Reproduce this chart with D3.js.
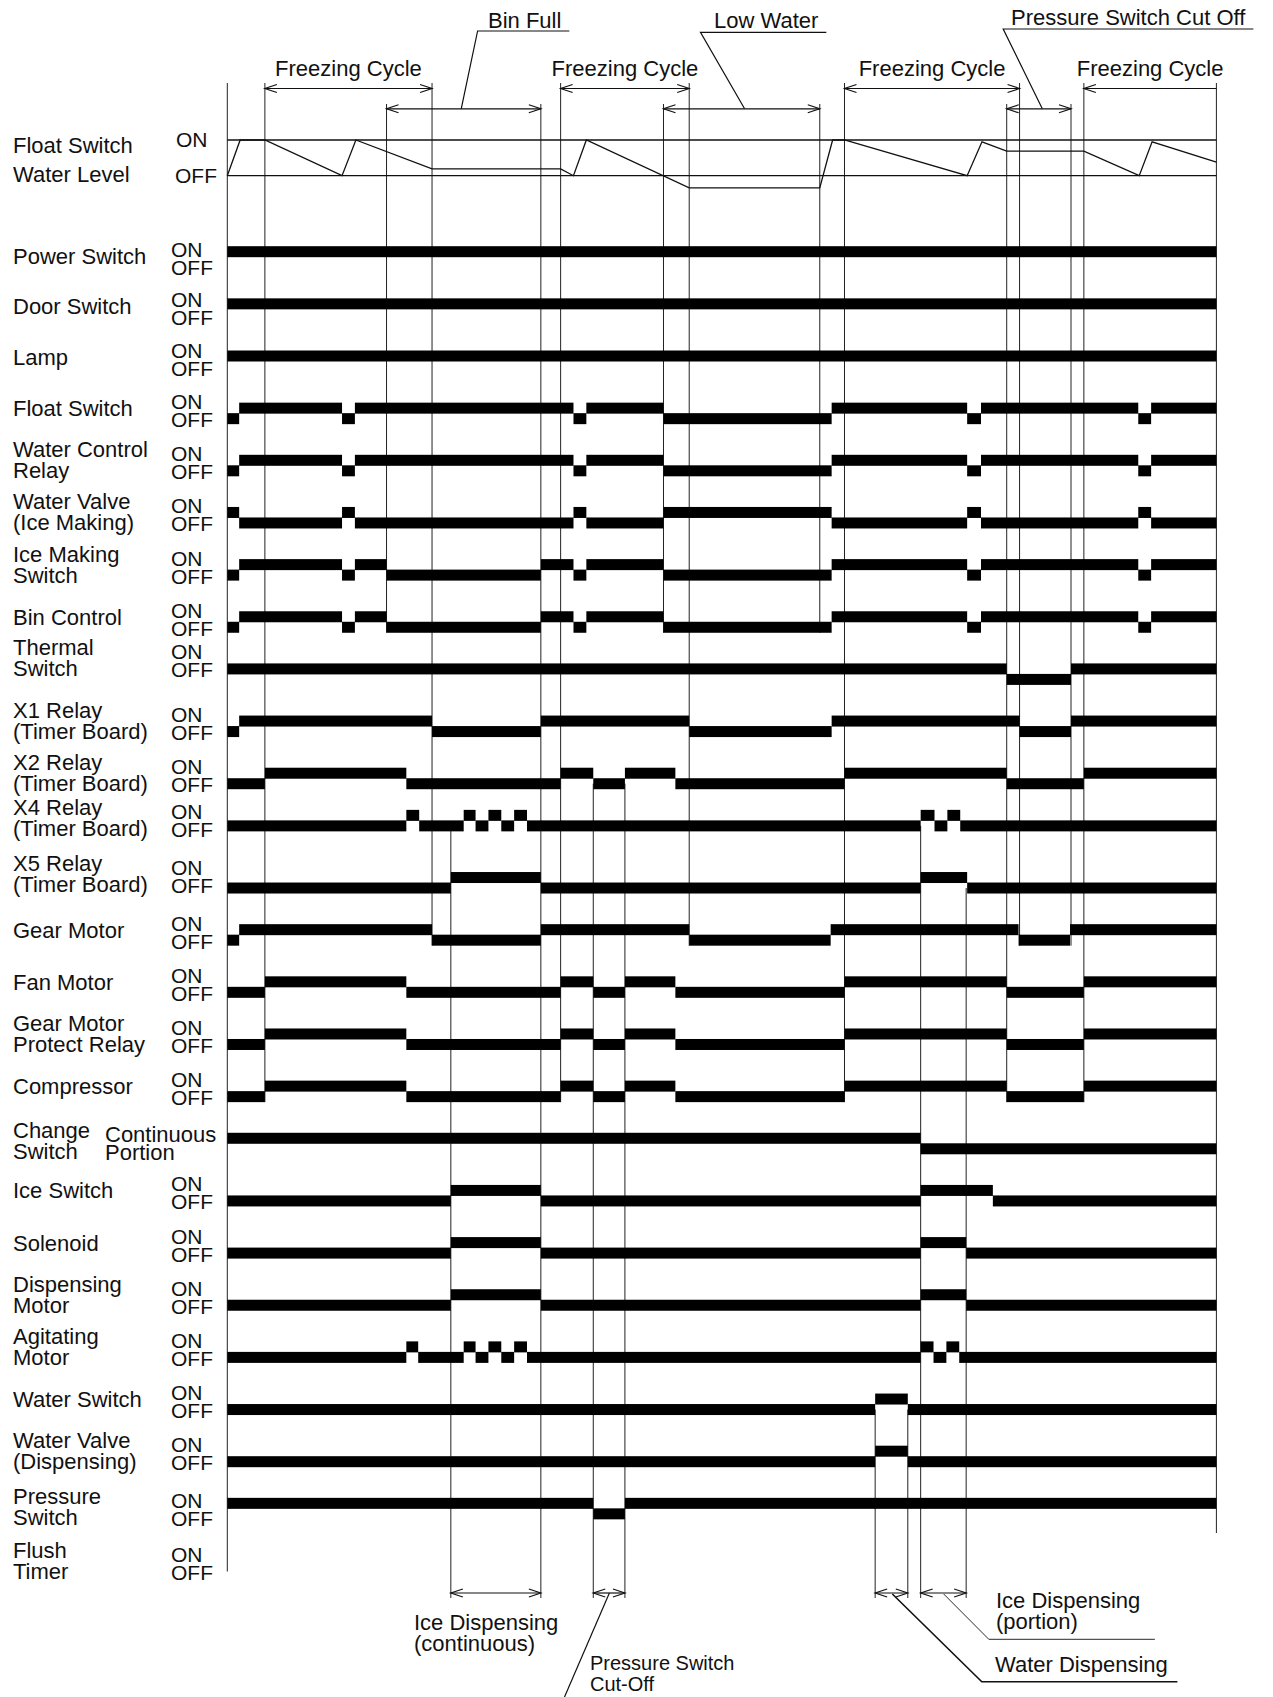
<!DOCTYPE html>
<html>
<head>
<meta charset="utf-8">
<script src="https://cdn.jsdelivr.net/npm/d3@7"></script>
<style>
  body { margin: 0; background: #fff; }
  text { font-family: "Liberation Sans", Arial, Helvetica, sans-serif; fill: #111; }
</style>
</head>
<body>
<script>
// rows of the timing chart, top to bottom
var rowNames = ["Power Switch", "Door Switch", "Lamp", "Float Switch", "Water Control Relay",
  "Water Valve (Ice Making)", "Ice Making Switch", "Bin Control", "Thermal Switch", "X1 Relay",
  "X2 Relay", "X4 Relay", "X5 Relay", "Gear Motor", "Fan Motor", "Gear Motor Protect Relay",
  "Compressor", "Change Switch", "Ice Switch", "Solenoid", "Dispensing Motor", "Agitating Motor",
  "Water Switch", "Water Valve (Dispensing)", "Pressure Switch", "Flush Timer"];

var rowLabels = [["Power Switch"], ["Door Switch"], ["Lamp"], ["Float Switch"], ["Water Control", "Relay"],
  ["Water Valve", "(Ice Making)"], ["Ice Making", "Switch"], ["Bin Control"], ["Thermal", "Switch"],
  ["X1 Relay", "(Timer Board)"], ["X2 Relay", "(Timer Board)"], ["X4 Relay", "(Timer Board)"],
  ["X5 Relay", "(Timer Board)"], ["Gear Motor"], ["Fan Motor"], ["Gear Motor", "Protect Relay"],
  ["Compressor"], ["Change", "Switch"], ["Ice Switch"], ["Solenoid"], ["Dispensing", "Motor"],
  ["Agitating", "Motor"], ["Water Switch"], ["Water Valve", "(Dispensing)"], ["Pressure", "Switch"],
  ["Flush", "Timer"]];

var stateLabels = ["ON", "OFF"];
var changeStates = ["Continuous", "Portion"];

// transitions: [time, state] with 1 = ON (upper level), 0 = OFF; time runs 0..100
var alwaysOn = [[0, 1]];
var floatSwitch = [[0, 0], [1.2, 1], [11.6, 0], [12.9, 1], [35.0, 0], [36.3, 1], [44.1, 0], [61.1, 1], [74.8, 0], [76.2, 1], [92.1, 0], [93.4, 1]];
var waterValveIce = [[0, 1], [1.2, 0], [11.6, 1], [12.9, 0], [35.0, 1], [36.3, 0], [44.1, 1], [61.1, 0], [74.8, 1], [76.2, 0], [92.1, 1], [93.4, 0]];
var iceMakingSwitch = [[0, 0], [1.2, 1], [11.6, 0], [12.9, 1], [16.1, 0], [31.7, 1], [35.0, 0], [36.3, 1], [44.1, 0], [61.1, 1], [74.8, 0], [76.2, 1], [92.1, 0], [93.4, 1]];
var thermalSwitch = [[0, 1], [78.8, 0], [85.3, 1]];
var x1Relay = [[0, 0], [1.2, 1], [20.7, 0], [31.7, 1], [46.7, 0], [61.1, 1], [80.1, 0], [85.3, 1]];
var x2Relay = [[0, 0], [3.8, 1], [18.1, 0], [33.7, 1], [37.0, 0], [40.2, 1], [45.3, 0], [62.4, 1], [78.8, 0], [86.6, 1]];
var x4Relay = [[0, 0], [18.1, 1], [19.4, 0], [23.9, 1], [25.1, 0], [26.4, 1], [27.7, 0], [29.0, 1], [30.3, 0], [70.1, 1], [71.5, 0], [72.8, 1], [74.1, 0]];
var x5Relay = [[0, 0], [22.6, 1], [31.7, 0], [70.1, 1], [74.8, 0]];
var gearMotor = [[0, 0], [1.2, 1], [20.7, 0], [31.7, 1], [46.7, 0], [61.0, 1], [80.0, 0], [85.2, 1]];
var changeSwitch = [[0, 1], [70.1, 0]];
var iceSwitch = [[0, 0], [22.6, 1], [31.7, 0], [70.1, 1], [77.4, 0]];
var solenoid = [[0, 0], [22.6, 1], [31.7, 0], [70.1, 1], [74.7, 0]];
var agitatingMotor = [[0, 0], [18.1, 1], [19.3, 0], [23.9, 1], [25.1, 0], [26.4, 1], [27.7, 0], [29.0, 1], [30.3, 0], [70.1, 1], [71.4, 0], [72.7, 1], [74.0, 0]];
var waterSwitch = [[0, 0], [65.5, 1], [68.8, 0]];
var pressureSwitch = [[0, 1], [37.0, 0], [40.2, 1]];
var flushTimer = [];

// water level in the float chamber: 1 = ON mark, 0 = OFF mark
var waterLevel = [[0, 0], [1.3, 1], [3.8, 1], [11.6, 0], [13.0, 1], [20.7, 0.19], [33.7, 0.19], [35.0, 0],
  [36.3, 1], [46.7, -0.34], [59.9, -0.34], [61.2, 1], [62.4, 1], [74.8, 0], [76.3, 0.95], [78.8, 0.69],
  [86.6, 0.69], [92.2, 0], [93.5, 0.95], [100, 0.38]];

// vertical guide lines: [time, from, to]
var guides = [[0, "cycle", "Flush Timer"], [3.8, "cycle", "Compressor"], [16.1, "span", "Bin Control"],
  [20.7, "cycle", "Gear Motor"], [22.6, "X4 Relay", "dims"], [31.7, "span", "dims"], [33.7, "cycle", "Compressor"],
  [37.0, "X2 Relay", "dims"], [40.2, "X2 Relay", "dims"], [44.1, "span", "Bin Control"], [46.7, "cycle", "Gear Motor"],
  [59.9, "span", "Bin Control"], [62.4, "cycle", "Compressor"], [65.5, "Water Switch", "dims"],
  [68.8, "Water Switch", "dims"], [70.1, "X4 Relay", "dims"], [74.7, "X5 Relay", "dims"],
  [78.8, "span", "Compressor"], [80.1, "cycle", "Gear Motor"], [85.3, "span", "Gear Motor"],
  [86.6, "cycle", "Compressor"], [100, "cycle", "end"]];

var freezingCycles = [[3.8, 20.7], [33.7, 46.7], [62.4, 80.1], [86.6, 100]];
var topEvents = ["Bin Full", "Low Water", "Pressure Switch Cut Off"];
var topEventSpans = [[16.1, 31.7], [44.1, 59.9], [78.8, 85.3]];
var bottomEvents = [["Ice Dispensing", "(continuous)"], ["Pressure Switch", "Cut-Off"], ["Water Dispensing"], ["Ice Dispensing", "(portion)"]];
var bottomEventSpans = [[22.6, 31.7], [37.0, 40.2], [65.5, 68.8], [70.1, 74.7]];

var signals = [alwaysOn, alwaysOn, alwaysOn, floatSwitch, floatSwitch, waterValveIce, iceMakingSwitch,
  iceMakingSwitch, thermalSwitch, x1Relay, x2Relay, x4Relay, x5Relay, gearMotor, x2Relay, x2Relay, x2Relay,
  changeSwitch, iceSwitch, solenoid, solenoid, agitatingMotor, waterSwitch, waterSwitch, pressureSwitch, flushTimer];

function main() {
  var svg = d3.select("body").append("svg").attr("width", 1273).attr("height", 1697);

  var x = d3.scaleLinear().domain([0, 100]).range([227.3, 1216.4]);
  var rowY = d3.scalePoint().domain(rowNames).range([251.7, 1555.5]);
  var wl = d3.scaleLinear().domain([0, 1]).range([175.7, 140]);

  var STEP = 10.5, BAR = 11;
  // small layout tweaks where the original drawing is not evenly spaced
  var barNudge = {"X4 Relay": -10};
  var labelNudge = {"Power Switch": 4, "Door Switch": 2, "Lamp": 1, "Thermal Switch": -10.5, "X4 Relay": -7,
    "X5 Relay": -4, "Change Switch": 3, "Pressure Switch": 4, "Flush Timer": 5};
  var fixedY = {cycle: 83, span: 104, dims: 1598, end: 1533};

  function yOn(name) { return rowY(name) + (barNudge[name] || 0); }
  function yLevel(name, s) { return yOn(name) + (s ? 0 : STEP); }

  // guide lines
  svg.append("g").attr("stroke", "#222").attr("stroke-width", 1)
    .selectAll("line").data(guides).join("line")
    .attr("x1", d => x(d[0])).attr("x2", d => x(d[0]))
    .attr("y1", d => fixedY[d[1]] !== undefined ? fixedY[d[1]] : yLevel(d[1], 0))
    .attr("y2", d => fixedY[d[2]] !== undefined ? fixedY[d[2]] : yLevel(d[2], 0) + BAR / 2);

  // water level section
  var top = svg.append("g").attr("stroke", "#111").attr("stroke-width", 1.3).attr("fill", "none");
  [1, 0].forEach(function(v) {
    top.append("line").attr("x1", x(0)).attr("x2", x(100)).attr("y1", wl(v)).attr("y2", wl(v));
  });
  top.append("path").datum(waterLevel)
    .attr("d", d3.line().x(d => x(d[0])).y(d => wl(d[1])));

  svg.append("text").attr("x", 13).attr("y", 153).attr("font-size", 22).text("Float Switch");
  svg.append("text").attr("x", 13).attr("y", 182).attr("font-size", 22).text("Water Level");
  svg.append("text").attr("x", 176).attr("y", 147).attr("font-size", 21).text("ON");
  svg.append("text").attr("x", 175).attr("y", 183).attr("font-size", 21).text("OFF");

  // signal bars
  var segs = [];
  rowNames.forEach(function(name, i) {
    var tr = signals[i];
    tr.forEach(function(d, j) {
      var t1 = j + 1 < tr.length ? tr[j + 1][0] : 100;
      segs.push({name: name, t0: d[0], t1: t1, s: d[1]});
    });
  });
  svg.append("g").selectAll("rect").data(segs).join("rect")
    .attr("x", d => x(d.t0)).attr("width", d => x(d.t1) - x(d.t0))
    .attr("y", d => yLevel(d.name, d.s) - BAR / 2).attr("height", BAR)
    .attr("fill", "#000");

  // row labels and state labels
  var labels = svg.append("g");
  rowNames.forEach(function(name, i) {
    var r = rowY(name) + (labelNudge[name] || 0);
    var lines = rowLabels[i];
    var ys = lines.length === 1 ? [r + 8] : [r - 3, r + 18];
    lines.forEach(function(s, k) {
      labels.append("text").attr("x", 13).attr("y", ys[k]).attr("font-size", 22).text(s);
    });
    var st = name === "Change Switch" ? changeStates : stateLabels;
    var sx = name === "Change Switch" ? 105 : 171;
    var sf = name === "Change Switch" ? 22 : 21;
    labels.append("text").attr("x", sx).attr("y", r + 1).attr("font-size", sf).text(st[0]);
    labels.append("text").attr("x", sx).attr("y", r + 19).attr("font-size", sf).text(st[1]);
  });

  // dimension arrows
  var ann = svg.append("g").attr("stroke", "#111").attr("stroke-width", 1.2).attr("fill", "none");
  function arrow(xa, xb, y, left, right) {
    ann.append("line").attr("x1", xa).attr("x2", xb).attr("y1", y).attr("y2", y);
    if (left) ann.append("path").attr("d", "M" + (xa + 12) + "," + (y - 4) + "L" + xa + "," + y + "L" + (xa + 12) + "," + (y + 4));
    if (right) ann.append("path").attr("d", "M" + (xb - 12) + "," + (y - 4) + "L" + xb + "," + y + "L" + (xb - 12) + "," + (y + 4));
  }

  freezingCycles.forEach(function(c) {
    arrow(x(c[0]), x(c[1]), 88.5, true, c[1] < 100);
    svg.append("text").attr("x", (x(c[0]) + x(c[1])) / 2).attr("y", 76)
      .attr("text-anchor", "middle").attr("font-size", 22).text("Freezing Cycle");
  });

  // top events with leader lines
  var topLayout = [{tx: 488, ty: 28, ex: 477.6, ly: 31, at: 23.65},
                   {tx: 714, ty: 28, ex: 700.5, ly: 32.3, at: 52.3},
                   {tx: 1011, ty: 25, ex: 1003.2, ly: 29, at: 82.4}];
  topEvents.forEach(function(label, i) {
    var sp = topEventSpans[i], L = topLayout[i];
    arrow(x(sp[0]), x(sp[1]), 108.8, true, true);
    var t = svg.append("text").attr("x", L.tx).attr("y", L.ty).attr("font-size", 22).text(label);
    var w = t.node().getComputedTextLength();
    ann.append("path").attr("d", "M" + x(L.at) + ",108.8L" + L.ex + "," + L.ly + "L" + (L.tx + w + 8) + "," + L.ly);
  });

  // bottom events
  bottomEventSpans.forEach(function(sp) { arrow(x(sp[0]), x(sp[1]), 1593, true, true); });

  function multi(lines, tx, ty, fs, lh) {
    lines.forEach(function(s, k) {
      svg.append("text").attr("x", tx).attr("y", ty + k * lh).attr("font-size", fs).text(s);
    });
  }
  multi(bottomEvents[0], 414, 1630, 22, 20.5);
  multi(bottomEvents[1], 590, 1670, 20, 21);
  multi(bottomEvents[2], 995, 1672, 22, 21);
  multi(bottomEvents[3], 996, 1608, 22, 21);

  ann.append("line").attr("x1", x(38.63)).attr("y1", 1593).attr("x2", 564.5).attr("y2", 1697);
  ann.append("path").attr("stroke-width", 1.6)
    .attr("d", "M" + x(67.24) + ",1594L981.8,1681.7L1177.4,1681.7");
  ann.append("path").attr("stroke-width", 0.9)
    .attr("d", "M" + x(72.43) + ",1594L988.8,1639.3L1154.9,1639.3");
}

main();
</script>
</body>
</html>
